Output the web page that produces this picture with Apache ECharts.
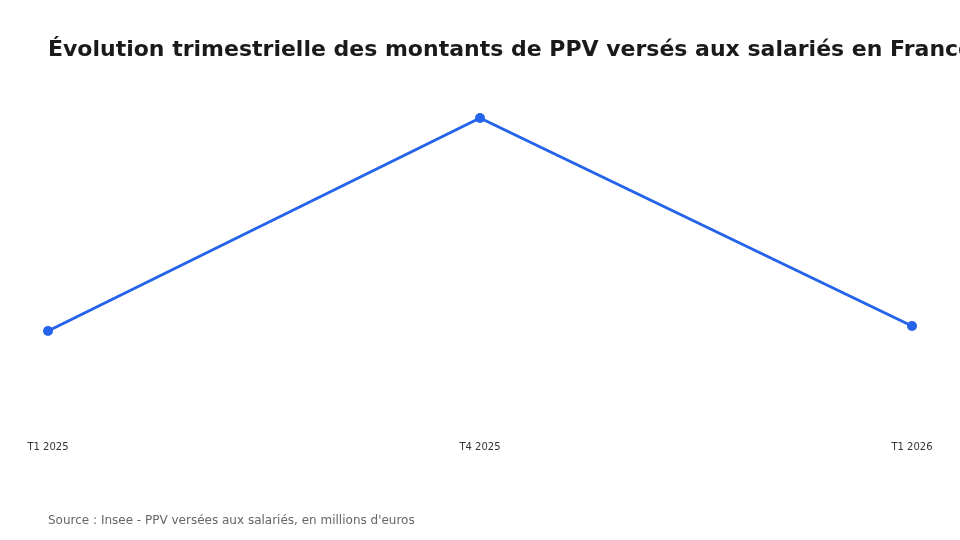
<!DOCTYPE html>
<html>
<head>
<meta charset="utf-8">
<script src="https://cdn.jsdelivr.net/npm/echarts@6/dist/echarts.min.js"></script>
<style>
  html, body { margin: 0; padding: 0; background: #fff; }
  #chart { width: 960px; height: 540px; }
</style>
</head>
<body>
<div id="chart"></div>
<script>
  var quarters = ['T1 2025', 'T4 2025', 'T1 2026'];
  var amounts = [396, 1248, 416];

  var myChart = echarts.init(document.getElementById('chart'));

  var option = {
    backgroundColor: '#ffffff',
    textStyle: { fontFamily: 'DejaVu Sans' },
    // title drawn as graphic text so it can overflow on the right like the original
    graphic: [{
      type: 'text',
      left: 48,
      top: 39,
      style: {
        text: 'Évolution trimestrielle des montants de PPV versés aux salariés en France',
        fontSize: 22,
        fontWeight: 'bold',
        fill: '#1a1a1a',
        fontFamily: 'DejaVu Sans'
      }
    }, {
      type: 'text',
      left: 48,
      top: 515,
      style: {
        text: "Source : Insee - PPV versées aux salariés, en millions d'euros",
        fontSize: 12,
        fill: '#666666',
        fontFamily: 'DejaVu Sans'
      }
    }],
    grid: { left: 48, right: 48, top: 80, bottom: 110 },
    xAxis: {
      type: 'category',
      data: quarters,
      boundaryGap: false,
      axisLine: { show: false },
      axisTick: { show: false },
      axisLabel: { fontSize: 10, color: '#333333', margin: 12 },
      splitLine: { show: false }
    },
    yAxis: {
      type: 'value',
      show: false,
      min: 0,
      max: 1400,
      splitLine: { show: false }
    },
    series: [{
      type: 'line',
      data: amounts,
      symbol: 'circle',
      symbolSize: 10,
      lineStyle: { color: '#2563eb', width: 3 },
      itemStyle: { color: '#2563eb' }
    }]
  };

  myChart.setOption(option);
</script>
</body>
</html>
